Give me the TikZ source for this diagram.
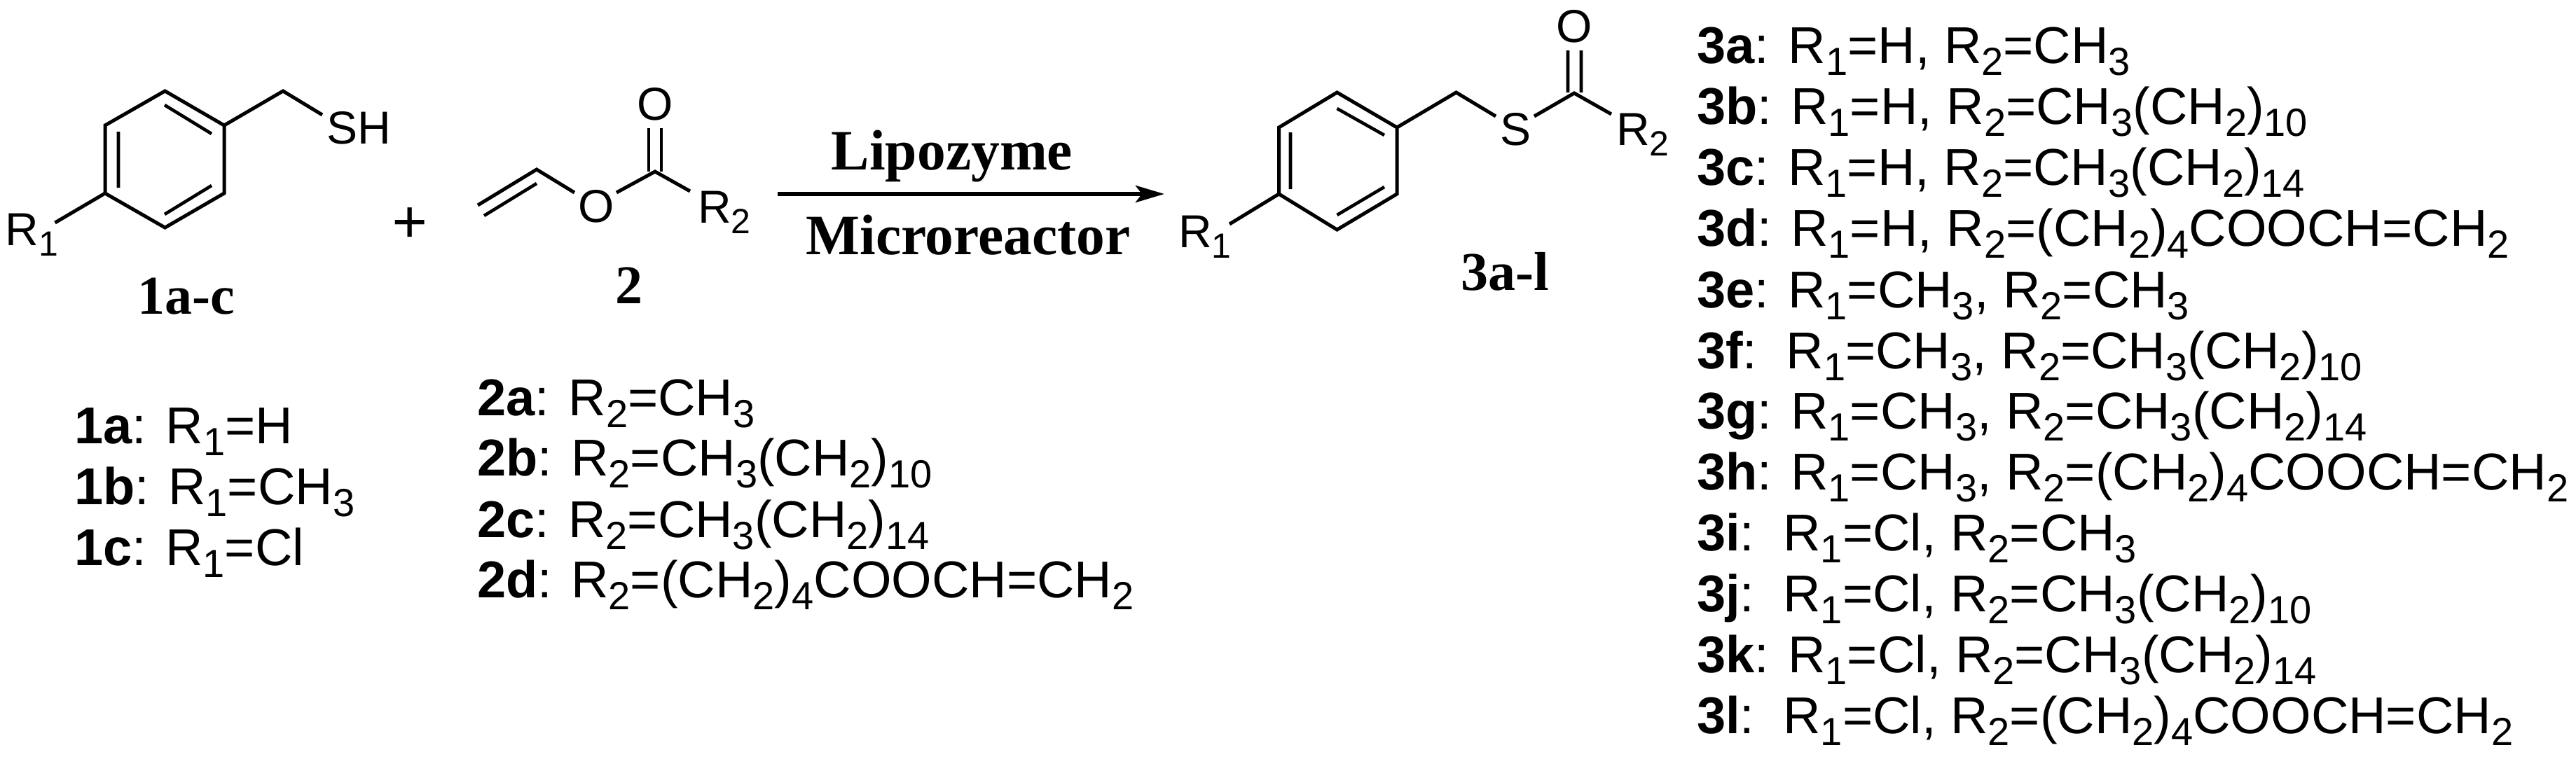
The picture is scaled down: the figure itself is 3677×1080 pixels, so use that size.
\documentclass[tikz,border=0pt]{standalone}
\usepackage{fontspec}
\setmainfont{Liberation Sans}
\newfontfamily\tnr{Liberation Serif}
\usetikzlibrary{arrows.meta}
\newcommand{\sbs}[1]{\raisebox{-17pt}{\fontsize{56}{56}\selectfont #1}}
\newcommand{\sbm}[1]{\raisebox{-15pt}{\fontsize{50}{50}\selectfont #1}}
\tikzset{
  bond/.style={line width=5pt,line cap=butt,line join=miter},
  ibond/.style={line width=4.6pt,line cap=butt},
  atom/.style={inner sep=0pt,outer sep=0pt,font=\fontsize{66}{70}\selectfont},
  listline/.style={inner sep=0pt,outer sep=0pt,anchor=base west,font=\fontsize{74}{80}\selectfont},
  cpd/.style={inner sep=0pt,outer sep=0pt,anchor=base,font=\tnr\bfseries\fontsize{78}{84}\selectfont},
  cond/.style={inner sep=0pt,outer sep=0pt,anchor=base,font=\tnr\bfseries\fontsize{81.5}{88}\selectfont},
}
\begin{document}
\begin{tikzpicture}[x=1pt,y=-1pt]
\useasboundingbox (0,0) rectangle (3677,1080);
\fill[white] (0,0) rectangle (3677,1080);
% ---- compound 1
\coordinate (aT) at (235.5,130); \coordinate (aUR) at (320,179); \coordinate (aLR) at (320,276);
\coordinate (aB) at (235.5,325); \coordinate (aLL) at (150,276); \coordinate (aUL) at (150,179);
\coordinate (aC) at (404,130); \coordinate (aSe) at (460,164); \coordinate (aRe) at (78.5,318);
\coordinate (ai1) at (235,150); \coordinate (ai2) at (302,191); \coordinate (ai3) at (169,188);
\coordinate (ai4) at (169,268); \coordinate (ai5) at (302,265); \coordinate (ai6) at (235,306);
\draw[bond] (aT)--(aUR)--(aLR)--(aB)--(aLL)--(aUL)--cycle;
\draw[bond] (aUR)--(aC)--(aSe);
\draw[bond] (aLL)--(aRe);
\draw[ibond] (ai1)--(ai2) (ai3)--(ai4) (ai5)--(ai6);
\node[atom,anchor=base west] (aSH) at (466,205) {SH};
\node[atom,anchor=base west] (aR) at (8,350) {R\sbm{1}};
\node[cpd] (l1) at (266,448) {1a-c};
% plus
\node[inner sep=0pt,outer sep=0pt,font=\tnr\bfseries\fontsize{90}{90}\selectfont] (plus) at (585,322) {+};
% ---- compound 2
\coordinate (bV1) at (682,293); \coordinate (bV2) at (766,242); \coordinate (bOe1) at (820,275);
\coordinate (bOe2) at (880,275); \coordinate (bC) at (935,245); \coordinate (bRe) at (985,273);
\coordinate (bi1) at (691,308); \coordinate (bi2) at (766,262);
\coordinate (bd1) at (926,183); \coordinate (bd2) at (926,245); \coordinate (bd3) at (944,183); \coordinate (bd4) at (944,245);
\draw[bond] (bV1)--(bV2)--(bOe1);
\draw[ibond] (bi1)--(bi2);
\draw[bond] (bOe2)--(bC)--(bRe);
\draw[ibond] (bd1)--(bd2) (bd3)--(bd4);
\node[atom,anchor=base] (bO1) at (851,317) {O};
\node[atom,anchor=base] (bO2) at (935,171) {O};
\node[atom,anchor=base west] (bR) at (996,318) {R\sbm{2}};
\node[cpd] (l2) at (898,433) {2};
% ---- arrow
\coordinate (ars) at (1110,277); \coordinate (are) at (1662,277);
\draw[line width=6pt,-{Stealth[length=41pt,width=24pt,inset=9pt]}] (ars)--(are);
\node[cond] (lip) at (1359,242) {Lipozyme};
\node[cond] (mic) at (1382,363) {Microreactor};
% ---- compound 3
\coordinate (cT) at (1908.5,132); \coordinate (cUR) at (1994,182); \coordinate (cLR) at (1994,277);
\coordinate (cB) at (1908.5,328); \coordinate (cLL) at (1825.5,277); \coordinate (cUL) at (1825.5,182);
\coordinate (cC) at (2078.5,132); \coordinate (cS1) at (2135,166); \coordinate (cS2) at (2190,166);
\coordinate (cC2) at (2247,133); \coordinate (cRe) at (2300,163); \coordinate (cR1e) at (1755,320);
\coordinate (ci1) at (1908.5,155); \coordinate (ci2) at (1976,193); \coordinate (ci3) at (1842,189);
\coordinate (ci4) at (1842,270); \coordinate (ci5) at (1976,267); \coordinate (ci6) at (1908.5,307);
\coordinate (cd1) at (2238,72); \coordinate (cd2) at (2238,132); \coordinate (cd3) at (2257,72); \coordinate (cd4) at (2257,132);
\draw[bond] (cT)--(cUR)--(cLR)--(cB)--(cLL)--(cUL)--cycle;
\draw[bond] (cUR)--(cC)--(cS1);
\draw[bond] (cS2)--(cC2)--(cRe);
\draw[bond] (cLL)--(cR1e);
\draw[ibond] (ci1)--(ci2) (ci3)--(ci4) (ci5)--(ci6) (cd1)--(cd2) (cd3)--(cd4);
\node[atom,anchor=base] (cS) at (2163,207) {S};
\node[atom,anchor=base] (cO) at (2247.5,60) {O};
\node[atom,anchor=base west] (cR2) at (2307,207) {R\sbm{2}};
\node[atom,anchor=base west] (cR1) at (1682,353) {R\sbm{1}};
\node[cpd] (l3) at (2148,414) {3a-l};
% ---- list 1
\node[listline] (n1a) at (106,633) {\textbf{1a}: R\sbs{1}=H};
\node[listline] (n1b) at (106,720) {\textbf{1b}: R\sbs{1}=CH\sbs{3}};
\node[listline] (n1c) at (106,807) {\textbf{1c}: R\sbs{1}=Cl};
% ---- list 2
\node[listline] (n2a) at (681,593) {\textbf{2a}: R\sbs{2}=CH\sbs{3}};
\node[listline] (n2b) at (681,679) {\textbf{2b}: R\sbs{2}=CH\sbs{3}(CH\sbs{2})\sbs{10}};
\node[listline] (n2c) at (681,767) {\textbf{2c}: R\sbs{2}=CH\sbs{3}(CH\sbs{2})\sbs{14}};
\node[listline] (n2d) at (681,853) {\textbf{2d}: R\sbs{2}=(CH\sbs{2})\sbs{4}COOCH=CH\sbs{2}};
% ---- list 3
\node[listline] (n3a) at (2422,90) {\textbf{3a}: R\sbs{1}=H, R\sbs{2}=CH\sbs{3}};
\node[listline] (n3b) at (2422,177) {\textbf{3b}: R\sbs{1}=H, R\sbs{2}=CH\sbs{3}(CH\sbs{2})\sbs{10}};
\node[listline] (n3c) at (2422,264.5) {\textbf{3c}: R\sbs{1}=H, R\sbs{2}=CH\sbs{3}(CH\sbs{2})\sbs{14}};
\node[listline] (n3d) at (2422,351) {\textbf{3d}: R\sbs{1}=H, R\sbs{2}=(CH\sbs{2})\sbs{4}COOCH=CH\sbs{2}};
\node[listline] (n3e) at (2422,439) {\textbf{3e}: R\sbs{1}=CH\sbs{3}, R\sbs{2}=CH\sbs{3}};
\node[listline] (n3f) at (2422,526) {\textbf{3f}:\ \ R\sbs{1}=CH\sbs{3}, R\sbs{2}=CH\sbs{3}(CH\sbs{2})\sbs{10}};
\node[listline] (n3g) at (2422,612) {\textbf{3g}: R\sbs{1}=CH\sbs{3}, R\sbs{2}=CH\sbs{3}(CH\sbs{2})\sbs{14}};
\node[listline] (n3h) at (2422,699) {\textbf{3h}: R\sbs{1}=CH\sbs{3}, R\sbs{2}=(CH\sbs{2})\sbs{4}COOCH=CH\sbs{2}};
\node[listline] (n3i) at (2422,786) {\textbf{3i}:\ \ R\sbs{1}=Cl, R\sbs{2}=CH\sbs{3}};
\node[listline] (n3j) at (2422,873) {\textbf{3j}:\ \ R\sbs{1}=Cl, R\sbs{2}=CH\sbs{3}(CH\sbs{2})\sbs{10}};
\node[listline] (n3k) at (2422,960) {\textbf{3k}: R\sbs{1}=Cl, R\sbs{2}=CH\sbs{3}(CH\sbs{2})\sbs{14}};
\node[listline] (n3l) at (2422,1047) {\textbf{3l}:\ \ R\sbs{1}=Cl, R\sbs{2}=(CH\sbs{2})\sbs{4}COOCH=CH\sbs{2}};
\end{tikzpicture}
\end{document}
